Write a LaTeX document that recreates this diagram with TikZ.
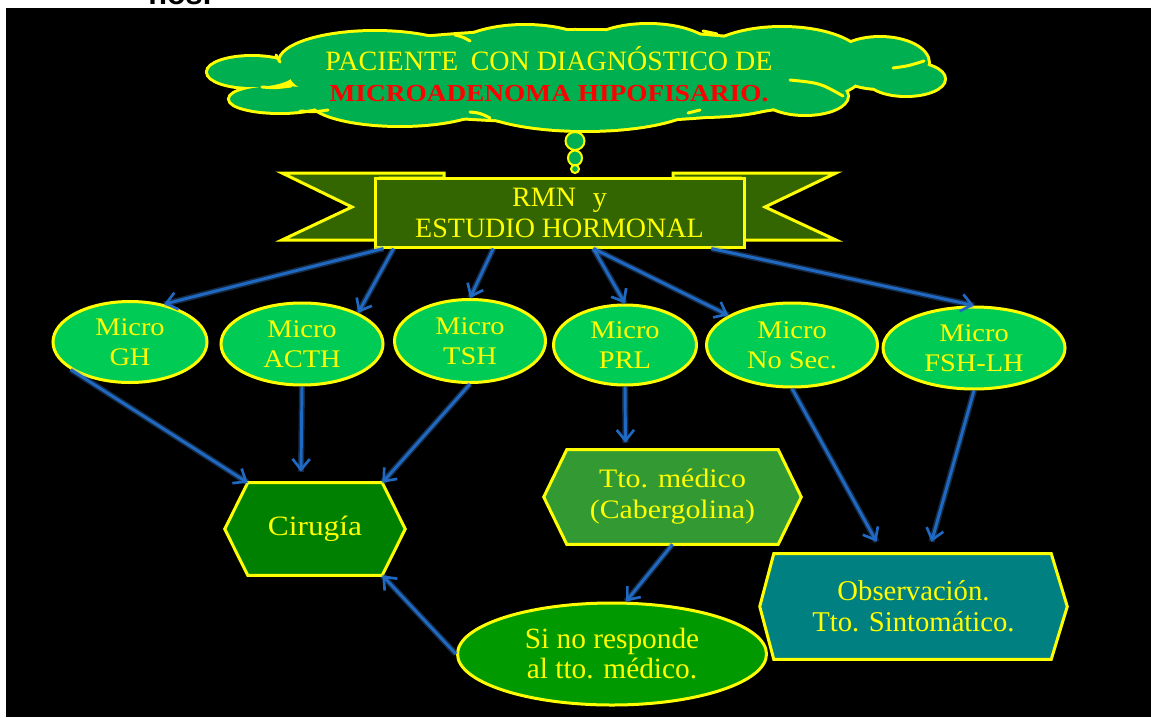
\documentclass[tikz,border=0pt]{standalone}
\usepackage{fontspec}
\setmainfont{Liberation Serif}
\newfontfamily\widefont[FakeStretch=1.12]{Liberation Serif}
\newfontfamily\cutfont{Liberation Sans}
\usetikzlibrary{arrows.meta,calc,shapes.geometric}
\definecolor{ylw}{RGB}{255,255,0}
\definecolor{cloudgreen}{RGB}{0,176,80}
\definecolor{microgreen}{RGB}{0,204,85}
\definecolor{bannergreen}{RGB}{51,102,0}
\definecolor{cirgreen}{RGB}{0,128,0}
\definecolor{ttogreen}{RGB}{51,153,51}
\definecolor{sigreen}{RGB}{0,153,0}
\definecolor{obsteal}{RGB}{0,128,128}
\definecolor{arrowblue}{RGB}{31,105,195}
\definecolor{arrowglow}{RGB}{70,140,230}
\definecolor{titlered}{RGB}{255,0,0}
\pgfdeclarelayer{back}
\pgfdeclarelayer{shapes}
\pgfsetlayers{back,shapes,main}
\tikzset{
  micro/.style={ellipse, draw=ylw, line width=2.25pt, fill=microgreen, inner sep=0pt,
    align=center, text=ylw, font=\widefont\fontsize{19}{22.5}\selectfont},
  hexnode/.style={rectangle, inner sep=0pt, align=center, text=ylw},
  hexline/.style={draw=ylw, line width=2.25pt, line join=miter},
  arr/.style={draw=arrowblue, line width=2.2pt,
    -{Straight Barb[length=8pt,width=13pt,line width=2pt]},
    preaction={draw=arrowglow, line width=4.5pt, opacity=0.3, -}},
  bubble/.style={draw=ylw, line width=1.5pt, fill=cloudgreen},
  innerstroke/.style={draw=ylw, line width=2.25pt, line cap=round}
}
\begin{document}
\begin{tikzpicture}[x=0.75pt,y=-0.75pt]
\useasboundingbox (0,0) rectangle (1151,717);
\begin{pgfonlayer}{back}
  \fill[white] (0,0) rectangle (1151,717);
  \fill[black] (6,8) rectangle (1151,717);
\end{pgfonlayer}

% cut-off text at the top
\begin{scope}
  \clip (0,0) rectangle (1151,8);
  \node[anchor=base west, inner sep=0pt, text=black,
        font=\cutfont\bfseries\fontsize{23}{23}\selectfont] (cut) at (148,5) {nos.};
\end{scope}

% cloud
\foreach \cx/\cy/\rx/\ry in {575/76/285/45, 375/62/95/30, 525/56/75/30, 648/55/68/30,
  782/62/82/34, 880/63/48/25, 906/79/38/16, 805/96/42/18, 700/100/80/16,
  585/100/115/30, 400/100/90/25, 252/72/44/15, 280/99/50/13}
  \draw[ylw, line width=4.5pt] (\cx,\cy) ellipse [x radius=\rx, y radius=\ry];
\foreach \cx/\cy/\rx/\ry in {575/76/285/45, 375/62/95/30, 525/56/75/30, 648/55/68/30,
  782/62/82/34, 880/63/48/25, 906/79/38/16, 805/96/42/18, 700/100/80/16,
  585/100/115/30, 400/100/90/25, 252/72/44/15, 280/99/50/13}
  \fill[cloudgreen] (\cx,\cy) ellipse [x radius=\rx, y radius=\ry];
\draw[innerstroke] (262,87) .. controls (275,88) .. (291,86);
\draw[innerstroke] (300,111) .. controls (315,112) .. (328,110);
\draw[innerstroke] (470,112) .. controls (480,113) .. (490,118);
\draw[innerstroke] (455,35) .. controls (463,37) .. (470,41);
\draw[innerstroke] (703,31) .. controls (710,32) .. (717,34);
\draw[innerstroke] (893,68) .. controls (908,66) .. (924,61);
\draw[innerstroke] (790,80) .. controls (820,83) .. (843,96);
\draw[innerstroke] (280,62) .. controls (278,58) .. (276,55);
\draw[innerstroke] (688,113) .. controls (694,111) .. (700,110);

\node[align=center, inner sep=0pt, text=ylw, font=\fontsize{21}{23.25}\selectfont] (title) at (549,74)
  {PACIENTE\hspace{0.45em}CON DIAGNÓSTICO DE\\
   {\widefont\bfseries\fontsize{18.3}{23.25}\selectfont\color{titlered}MICROADENOMA HIPOFISARIO.}};

% thought bubbles
\draw[bubble] (575,141) ellipse [x radius=9.5, y radius=9];
\draw[bubble] (575,158) ellipse [x radius=7, y radius=7.5];
\draw[bubble] (575,169) ellipse [x radius=4, y radius=4];

% banner
\begin{pgfonlayer}{shapes}
  \draw[fill=bannergreen, draw=ylw, line width=2.25pt, line join=miter]
    (444,173) -- (282,173) -- (352,207) -- (282,240) -- (380,240) -- (380,178) -- (444,178) -- cycle;
  \draw[fill=bannergreen, draw=ylw, line width=2.25pt, line join=miter]
    (673,173) -- (836,173) -- (765,207) -- (836,240) -- (740,240) -- (740,178) -- (673,178) -- cycle;
\end{pgfonlayer}
\node[rectangle, draw=ylw, line width=2.25pt, fill=bannergreen, minimum width=276.75pt,
      minimum height=51.75pt, inner sep=0pt, align=center, text=ylw,
      font=\fontsize{21}{23.25}\selectfont] (banner) at (559.5,212.5)
  {RMN\hspace{0.6em}y\\ESTUDIO HORMONAL};

% second row
\node[micro, minimum width=115.5pt, minimum height=60.75pt] (gh) at (130,342) {Micro\\GH};
\node[micro, minimum width=121.5pt, minimum height=61.5pt] (acth) at (302,344) {Micro\\ACTH};
\node[micro, minimum width=113.25pt, minimum height=62.25pt] (tsh) at (470,341) {Micro\\TSH};
\node[micro, minimum width=107.25pt, minimum height=60pt] (prl) at (625,345) {Micro\\PRL};
\node[micro, minimum width=128.25pt, minimum height=63pt] (nosec) at (792,345) {Micro\\No Sec.};
\node[micro, minimum width=136.5pt, minimum height=61.5pt] (fsh) at (974,348) {Micro\\FSH-LH};

% hexagons
\node[hexnode, minimum width=135pt, minimum height=69pt,
      font=\widefont\fontsize{21}{23}\selectfont] (cir) at (315,529) {Cirugía};
\node[hexnode, minimum width=192.75pt, minimum height=70.5pt,
      font=\widefont\fontsize{20}{23.25}\selectfont] (tto) at (672.5,497) {Tto. médico\\(Cabergolina)};
\node[hexnode, minimum width=230.25pt, minimum height=78.75pt,
      font=\fontsize{21.5}{23.25}\selectfont] (obs) at (913.5,606.5) {Observación.\\Tto. Sintomático.};
\begin{pgfonlayer}{shapes}
  \draw[hexline, fill=cirgreen] ($(cir.north west)+(23,0)$) -- ($(cir.north east)+(-23,0)$) -- (cir.east)
    -- ($(cir.south east)+(-23,0)$) -- ($(cir.south west)+(23,0)$) -- (cir.west) -- cycle;
  \draw[hexline, fill=ttogreen] ($(tto.north west)+(23,0)$) -- ($(tto.north east)+(-23,0)$) -- (tto.east)
    -- ($(tto.south east)+(-23,0)$) -- ($(tto.south west)+(23,0)$) -- (tto.west) -- cycle;
  \draw[hexline, fill=obsteal] ($(obs.north west)+(14,0)$) -- ($(obs.north east)+(-16,0)$) -- (obs.east)
    -- ($(obs.south east)+(-16,0)$) -- ($(obs.south west)+(14,0)$) -- (obs.west) -- cycle;
\end{pgfonlayer}

\node[ellipse, draw=ylw, line width=2.25pt, fill=sigreen, inner sep=0pt, align=center, text=ylw,
      minimum width=231.75pt, minimum height=76.5pt, font=\fontsize{22}{22.5}\selectfont]
      (si) at (612,654) {Si no responde\\al tto. médico.};

% connectors from the banner
\draw[arr] ($(banner.south west)!0.027!(banner.south east)$) -- (gh.48);
\draw[arr] ($(banner.south west)!0.054!(banner.south east)$) -- (acth.29);
\draw[arr] ($(banner.south west)!0.322!(banner.south east)$) -- (tsh.north);
\draw[arr] ($(banner.south west)!0.591!(banner.south east)$) -- (prl.north);
\draw[arr] ($(banner.south west)!0.591!(banner.south east)$) -- (nosec.155);
\draw[arr] ($(banner.south west)!0.908!(banner.south east)$) -- (fsh.north);

% lower connectors
\draw[arr] (gh.205) -- ($(cir.north west)+(23,0)$);
\draw[arr] (acth.south) -- ($(cir.north)+(-14,-11)$);
\draw[arr] (tsh.south) -- ($(cir.north east)+(-23,0)$);
\draw[arr] (prl.south) -- ($(tto.north)+(-47,-7)$);
\draw[arr] (nosec.south) -- ($(obs.north)+(-37,-12)$);
\draw[arr] (fsh.south) -- ($(obs.north)+(18,-12)$);
\draw[arr] (tto.south) -- ($(si.north)+(14,0)$);
\draw[arr] (si.west) -- ($(cir.south east)+(-23,0)$);
\end{tikzpicture}
\end{document}
